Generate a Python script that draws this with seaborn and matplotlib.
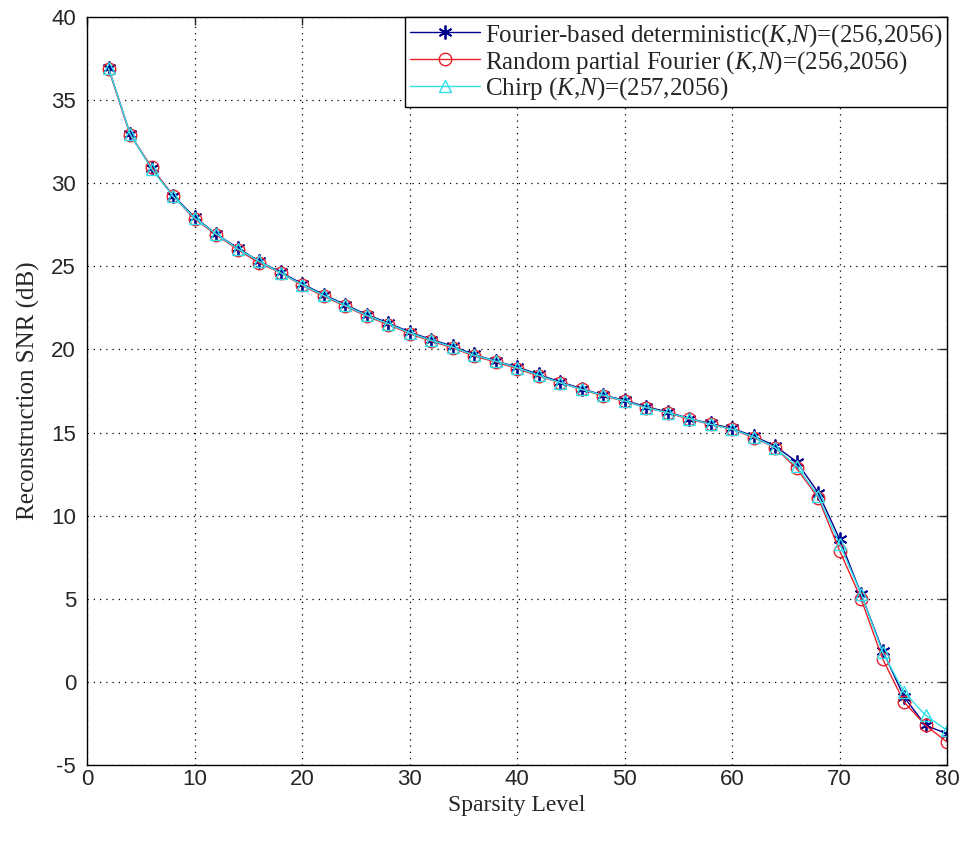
import numpy as np
import pandas as pd
import seaborn as sns
import matplotlib.pyplot as plt

# sparsity levels and reconstruction SNR (dB)
sparsity = list(range(2, 82, 2))

snr_fourier_det = [36.9, 32.95, 30.9, 29.25, 27.95, 26.95, 26.1, 25.3, 24.65, 23.95,
                   23.3, 22.7, 22.1, 21.6, 21.05, 20.6, 20.2, 19.7, 19.3, 18.95,
                   18.5, 18.05, 17.65, 17.25, 16.95, 16.55, 16.25, 15.85, 15.55, 15.25,
                   14.8, 14.2, 13.25, 11.4, 8.6, 5.3, 1.9, -0.9, -2.6, -3.1]

snr_random_fourier = [36.85, 32.9, 30.95, 29.2, 27.85, 26.9, 26.0, 25.2, 24.6, 23.85,
                      23.2, 22.6, 22.0, 21.5, 20.95, 20.5, 20.1, 19.6, 19.25, 18.85,
                      18.4, 18.0, 17.6, 17.2, 16.9, 16.5, 16.2, 15.8, 15.5, 15.2,
                      14.7, 14.1, 12.85, 11.1, 7.9, 5.0, 1.4, -1.2, -2.6, -3.6]

snr_chirp = [36.9, 32.95, 30.85, 29.2, 27.9, 26.95, 26.05, 25.3, 24.6, 23.9,
             23.25, 22.65, 22.05, 21.55, 21.0, 20.55, 20.15, 19.65, 19.3, 18.9,
             18.45, 18.0, 17.6, 17.25, 16.9, 16.5, 16.2, 15.85, 15.5, 15.2,
             14.75, 14.1, 13.0, 11.2, 8.3, 5.3, 1.8, -0.6, -2.0, -2.9]

labels = [r"Fourier-based deterministic($K$,$N$)=(256,2056)",
          r"Random partial Fourier ($K$,$N$)=(256,2056)",
          r"Chirp ($K$,$N$)=(257,2056)"]

sns.set_style("white")
plt.rcParams['font.family'] = ['Liberation Serif', 'DejaVu Serif']
plt.rcParams['mathtext.fontset'] = 'custom'
plt.rcParams['mathtext.it'] = 'Liberation Serif:italic'
plt.rcParams['mathtext.rm'] = 'Liberation Serif'
plt.rcParams['axes.unicode_minus'] = False

fig = plt.figure(figsize=(9.63, 8.41), dpi=100)
ax = fig.add_axes([0.0905, 0.09, 0.893, 0.89])

sns.lineplot(x=sparsity, y=snr_fourier_det, ax=ax, color='#00008f', marker=(6, 2, 0),
             markersize=10, markeredgecolor='#00008f', markeredgewidth=1.3,
             linewidth=1.0, label=labels[0])
sns.lineplot(x=sparsity, y=snr_random_fourier, ax=ax, color='#e8212b', marker='o',
             markersize=9, markerfacecolor='none', markeredgecolor='#e8212b',
             markeredgewidth=1.0, linewidth=1.0, label=labels[1])
sns.lineplot(x=sparsity, y=snr_chirp, ax=ax, color='#2fe0e8', marker='^',
             markersize=9, markerfacecolor='none', markeredgecolor='#2fe0e8',
             markeredgewidth=1.0, linewidth=1.0, label=labels[2])

ax.set_xlim(0, 80)
ax.set_ylim(-5, 40)
ax.set_xticks(np.arange(0, 81, 10))
ax.set_yticks(np.arange(-5, 41, 5))
ax.grid(True, linestyle=(0, (1, 4)), color='black', linewidth=0.9)
ax.tick_params(direction='in', length=6, top=True, right=True, width=1.0)
ax.tick_params(axis='x', pad=3)
ax.tick_params(axis='y', pad=8)
for t in ax.get_xticklabels() + ax.get_yticklabels():
    t.set_fontfamily('Liberation Sans')
    t.set_fontsize(16)
for sp in ax.spines.values():
    sp.set_color('black')
    sp.set_linewidth(1.0)

ax.set_xlabel("Sparsity Level", fontsize=17, labelpad=3)
ax.set_ylabel("Reconstruction SNR (dB)", fontsize=18, labelpad=8)

leg = ax.legend(loc='upper right', fontsize=18, frameon=True, fancybox=False,
                edgecolor='black', framealpha=1, borderaxespad=0.0,
                handlelength=2.8, labelspacing=0.0, borderpad=0.2,
                handletextpad=0.2)
leg.get_frame().set_linewidth(1.0)

fig.savefig("out.png", dpi=100)
